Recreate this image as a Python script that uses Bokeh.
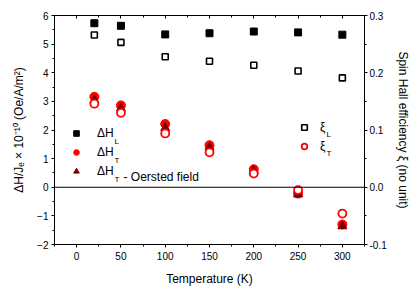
from bokeh.plotting import figure
from bokeh.models import (LinearAxis, Range1d, Span, Legend, LegendItem, Label,
                          FixedTicker, PrintfTickFormatter)
from bokeh.embed import file_html
from bokeh.resources import INLINE

# ---- data ----
temperature = [20, 50, 100, 150, 200, 250, 300]
dH_L = [5.73, 5.64, 5.34, 5.38, 5.44, 5.41, 5.33]
dH_T = [3.16, 2.86, 2.21, 1.47, 0.63, -0.22, -1.30]
dH_T_oersted = [3.05, 2.76, 2.07, 1.40, 0.58, -0.25, -1.36]
xi_L = [0.266, 0.253, 0.228, 0.220, 0.213, 0.203, 0.191]
xi_T = [0.146, 0.130, 0.094, 0.061, 0.024, -0.005, -0.046]

x_ticks = [0, 50, 100, 150, 200, 250, 300]
x_minor = [-25, 25, 75, 125, 175, 225, 275, 325]
left_ticks = [-2, -1, 0, 1, 2, 3, 4, 5, 6]
left_minor = [-1.5, -0.5, 0.5, 1.5, 2.5, 3.5, 4.5, 5.5]
right_ticks = [-0.1, 0.0, 0.1, 0.2, 0.3]
right_minor = [-0.05, 0.05, 0.15, 0.25]

FONT = "Liberation Sans"
RED = "#ff0000"
DARKRED = "#7a0000"

p = figure(width=412, height=288, x_range=Range1d(-25, 325), y_range=Range1d(-2, 6),
           output_backend="svg", toolbar_location=None,
           min_border_left=54, min_border_right=48, min_border_top=15, min_border_bottom=41)
p.extra_y_ranges = {"xi": Range1d(-0.1, 0.3)}
p.grid.visible = False
p.outline_line_color = "black"
p.outline_line_width = 1
p.background_fill_color = "white"
p.border_fill_color = "white"


def style_axis(ax, tick_out=3, minor_out=2, tick_in=0, minor_in=0):
    ax.axis_line_color = "black"
    ax.major_tick_line_color = "black"
    ax.minor_tick_line_color = "black"
    ax.major_tick_out = tick_out
    ax.minor_tick_out = minor_out
    ax.major_tick_in = tick_in
    ax.minor_tick_in = minor_in
    ax.major_label_text_font = FONT
    ax.major_label_text_font_size = "10px"
    ax.major_label_text_color = "black"
    ax.axis_label_text_font = FONT
    ax.axis_label_text_font_size = "12px"
    ax.axis_label_text_font_style = "normal"
    ax.axis_label_text_color = "black"


xb = p.xaxis[0]
xb.ticker = FixedTicker(ticks=x_ticks, minor_ticks=x_minor)
xb.axis_label = "Temperature (K)"
style_axis(xb)
xb.major_label_standoff = 4
xb.axis_label_standoff = 9

yl = p.yaxis[0]
yl.ticker = FixedTicker(ticks=left_ticks, minor_ticks=left_minor)
yl.axis_label = "ΔH/Jₑ × 10⁻¹⁰ (Oe/A/m²)"
style_axis(yl)
yl.major_label_standoff = 3
yl.axis_label_standoff = 8

yr = LinearAxis(y_range_name="xi", ticker=FixedTicker(ticks=right_ticks, minor_ticks=right_minor),
                formatter=PrintfTickFormatter(format="%.1f"),
                axis_label="Spin Hall efficiency ξ (no unit)")
style_axis(yr)
yr.major_label_standoff = 2
yr.axis_label_standoff = 6
p.add_layout(yr, "right")

xt = LinearAxis(ticker=FixedTicker(ticks=x_ticks, minor_ticks=x_minor))
style_axis(xt, tick_out=0, minor_out=0, tick_in=3, minor_in=2)
xt.major_label_overrides = {t: "" for t in x_ticks}
xt.major_label_standoff = 0
p.add_layout(xt, "above")

p.add_layout(Span(location=0, dimension="width", line_color="black", line_width=1))

# ---- data marks ----
r_L = p.scatter(temperature, dH_L, marker="square", size=7, fill_color="black", line_color="black")
r_T = p.scatter(temperature, dH_T, marker="circle", size=9, fill_color=RED, line_color=RED)
r_Toe = p.scatter(temperature, dH_T_oersted, marker="triangle", size=9,
                  fill_color=DARKRED, line_color=DARKRED)
r_xiL = p.scatter(temperature, xi_L, marker="square", size=6, fill_color="white",
                  line_color="black", line_width=1.6, y_range_name="xi")
r_xiT = p.scatter(temperature, xi_T, marker="circle", size=8, fill_color="white",
                  line_color=RED, line_width=1.8, y_range_name="xi")


def make_legend(items, loc, standoff):
    lg = Legend(items=items, location=loc, orientation="vertical",
                background_fill_alpha=0, border_line_alpha=0,
                padding=0, margin=0, spacing=3,
                glyph_width=14, glyph_height=16, label_height=16,
                label_standoff=standoff,
                label_text_font=FONT, label_text_font_size="12px",
                label_text_color="black")
    return lg


leg1 = make_legend([LegendItem(label="ΔH", renderers=[r_L]),
                    LegendItem(label="ΔH", renderers=[r_T]),
                    LegendItem(label="ΔH", renderers=[r_Toe])], (15, 65), 14)
leg2 = make_legend([LegendItem(label="ξ", renderers=[r_xiL]),
                    LegendItem(label="ξ", renderers=[r_xiT])], (243, 90), 9)
p.add_layout(leg1)
p.add_layout(leg2)

# subscripts / suffixes of legend labels (screen units relative to frame)
def sub(x, y, text, size="8px"):
    p.add_layout(Label(x=x, y=y, x_units="screen", y_units="screen", text=text,
                       text_font=FONT, text_font_size=size, text_color="black",
                       text_baseline="alphabetic"))

sub(60, 103, "L")
sub(60, 84, "T")
sub(60, 65, "T")
sub(69, 68, "- Oersted field", "12px")
sub(272, 110, "L")
sub(272, 91, "T")

open("out.html", "w").write(file_html(p, INLINE))
